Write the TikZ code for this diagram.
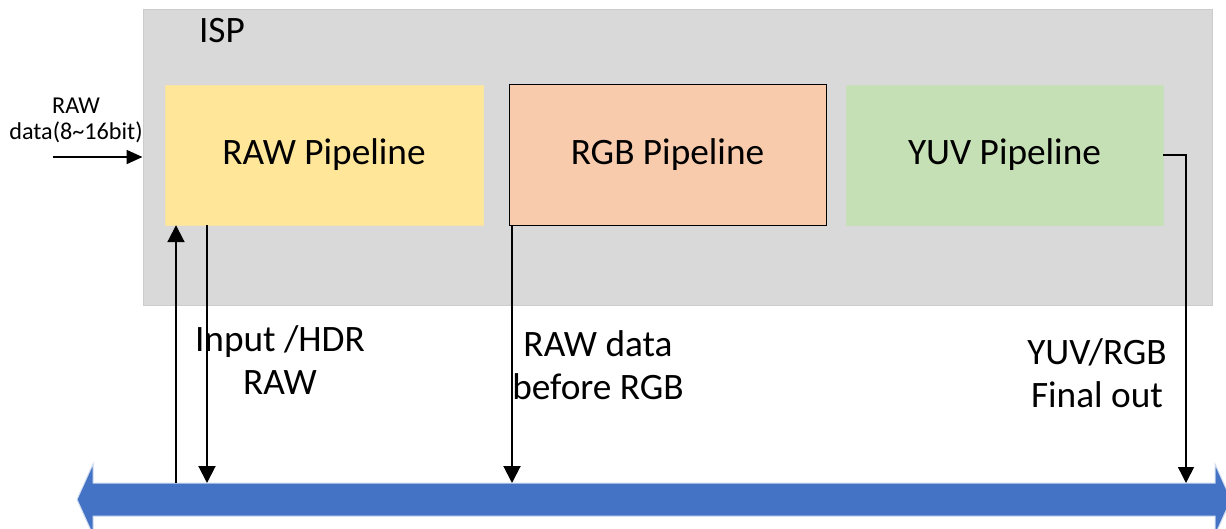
\documentclass[tikz,border=0pt]{standalone}
\usepackage{fontspec}
\setmainfont{Carlito}
\usetikzlibrary{arrows.meta}
\definecolor{ispgray}{HTML}{D9D9D9}
\definecolor{ispedge}{HTML}{CCCCCC}
\definecolor{rawfill}{HTML}{FFE699}
\definecolor{rgbfill}{HTML}{F8CBAD}
\definecolor{yuvfill}{HTML}{C5E0B4}
\definecolor{busblue}{HTML}{4472C4}
\tikzset{
  bigtxt/.style={font=\fontsize{37.3}{43}\selectfont},
  smalltxt/.style={font=\fontsize{24.2}{26}\selectfont},
  pipebox/.style={minimum width=318pt, minimum height=140pt, inner sep=0pt, bigtxt},
  flow/.style={line width=2pt, -{Triangle[length=17pt,width=17pt]}},
  flowthin/.style={line width=1.5pt, -{Triangle[length=16pt,width=16pt]}},
  lbl/.style={bigtxt, align=center, inner sep=0pt}
}
\begin{document}
\begin{tikzpicture}[x=1pt,y=-1pt]
\useasboundingbox (0,0) rectangle (1226,528);
\clip (0,0) rectangle (1226,528);
% ISP container
\node[draw=ispedge, fill=ispgray, line width=1pt, minimum width=1069pt, minimum height=296pt, inner sep=0pt] (isp) at (677.5,157) {};
\node[bigtxt, inner sep=0pt] (isplbl) at (222,31) {ISP};
% pipeline boxes
\node[pipebox, fill=rawfill, draw=rawfill!80!ispgray] (raw) at (324,155) {RAW Pipeline};
\node[pipebox, fill=rgbfill, draw=black, line width=1pt, minimum width=317pt, minimum height=141pt] (rgb) at (667.5,155) {RGB Pipeline};
\node[pipebox, fill=yuvfill, draw=yuvfill!80!ispgray, minimum width=317pt] (yuv) at (1004.5,155) {YUV Pipeline};
% bus (double-headed block arrow)
\draw[fill=busblue, draw=white!75!busblue, line width=1pt]
  (77,499.5) -- (93,464) -- (93,483) -- (1215,483) -- (1215,464) -- (1231,499.5)
  -- (1215,535) -- (1215,516) -- (93,516) -- (93,535) -- cycle;
% bus attachment points
\coordinate (b1) at (176,483);
\coordinate (b2) at (207,483);
\coordinate (b3) at (512,483);
\coordinate (b4) at (1186,483);
\coordinate (yuvcorner) at (1186,155);
\coordinate (inA) at (53,157);
% input
\node[smalltxt, align=center, inner sep=0pt] (inlbl) at (76,120) {RAW\\data(8\textasciitilde16bit)};
\draw[line width=2pt, -{Triangle[length=16pt,width=14pt]}] (inA) -- (inA -| isp.west);
% connectors
\draw[flow] (b1) -- (b1 |- raw.south);
\draw[flow] (b2 |- raw.south) -- (b2);
\draw[flow] (b3 |- rgb.south) -- (b3);
\draw[flowthin] (yuv.east) -- (yuvcorner) -- (b4);
% labels
\node[lbl] (l1) at (280,360) {Input /HDR\\RAW};
\node[lbl] (l2) at (598,365) {RAW data\\before RGB};
\node[lbl] (l3) at (1097,373) {YUV/RGB\\Final out};
\end{tikzpicture}
\end{document}
